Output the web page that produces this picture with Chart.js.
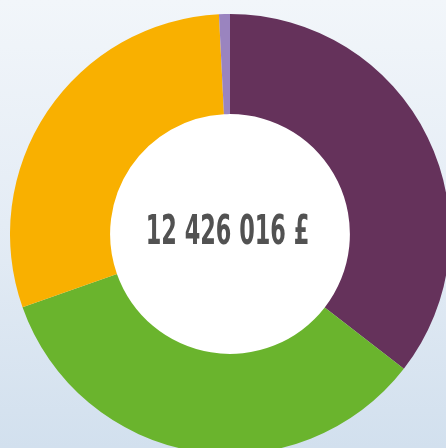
<!DOCTYPE html>
<html><head><meta charset="utf-8">
<script src="https://cdn.jsdelivr.net/npm/chart.js@4/dist/chart.umd.min.js"></script>
<style>
html,body{margin:0;padding:0;width:446px;height:448px;overflow:hidden;}
body{background:linear-gradient(to bottom,#f2f6fa 0%,#e4ecf5 50%,#d2e0ee 100%);position:relative;}
#wrap{position:absolute;left:10px;top:14px;width:440px;height:440px;}
</style></head>
<body>
<div id="wrap"><canvas id="c" width="440" height="440"></canvas></div>
<script>
const categories = ["Catégorie A", "Catégorie B", "Catégorie C", "Catégorie D"];
const values = [35.5, 34.1, 29.6, 0.8];
const colors = ["#65325b", "#6ab42d", "#f9b000", "#9a84bf"];
const centerLabel = "12 426 016 £";

const centerText = {
  id: 'centerText',
  afterDraw(chart) {
    const ctx = chart.ctx;
    const meta = chart.getDatasetMeta(0).data[0];
    const x = meta.x - 2.5, y = meta.y + 10.3;
    ctx.save();
    ctx.fillStyle = '#525252';
    ctx.font = 'bold 41px "Liberation Sans Narrow", "DejaVu Sans Condensed", sans-serif';
    ctx.textAlign = 'center';
    ctx.textBaseline = 'alphabetic';
    ctx.translate(x, y);
    ctx.scale(0.607, 1);
    ctx.fillText(centerLabel, 0, 0);
    ctx.restore();
  }
};

new Chart(document.getElementById('c'), {
  type: 'doughnut',
  data: {
    labels: categories,
    datasets: [{ data: values, backgroundColor: colors, borderWidth: 0, hoverOffset: 0 }]
  },
  options: {
    responsive: false,
    animation: false,
    cutout: '54.5%',
    layout: { padding: 0 },
    plugins: { legend: { display: false }, tooltip: { enabled: false } }
  },
  plugins: [centerText, {
    id: 'innerFill',
    beforeDatasetsDraw(chart) {
      const m = chart.getDatasetMeta(0).data[0];
      const ctx = chart.ctx;
      ctx.save();
      ctx.fillStyle = '#ffffff';
      ctx.beginPath();
      ctx.arc(m.x, m.y, m.innerRadius + 1, 0, Math.PI * 2);
      ctx.fill();
      ctx.restore();
    }
  }]
});
</script>
</body></html>
